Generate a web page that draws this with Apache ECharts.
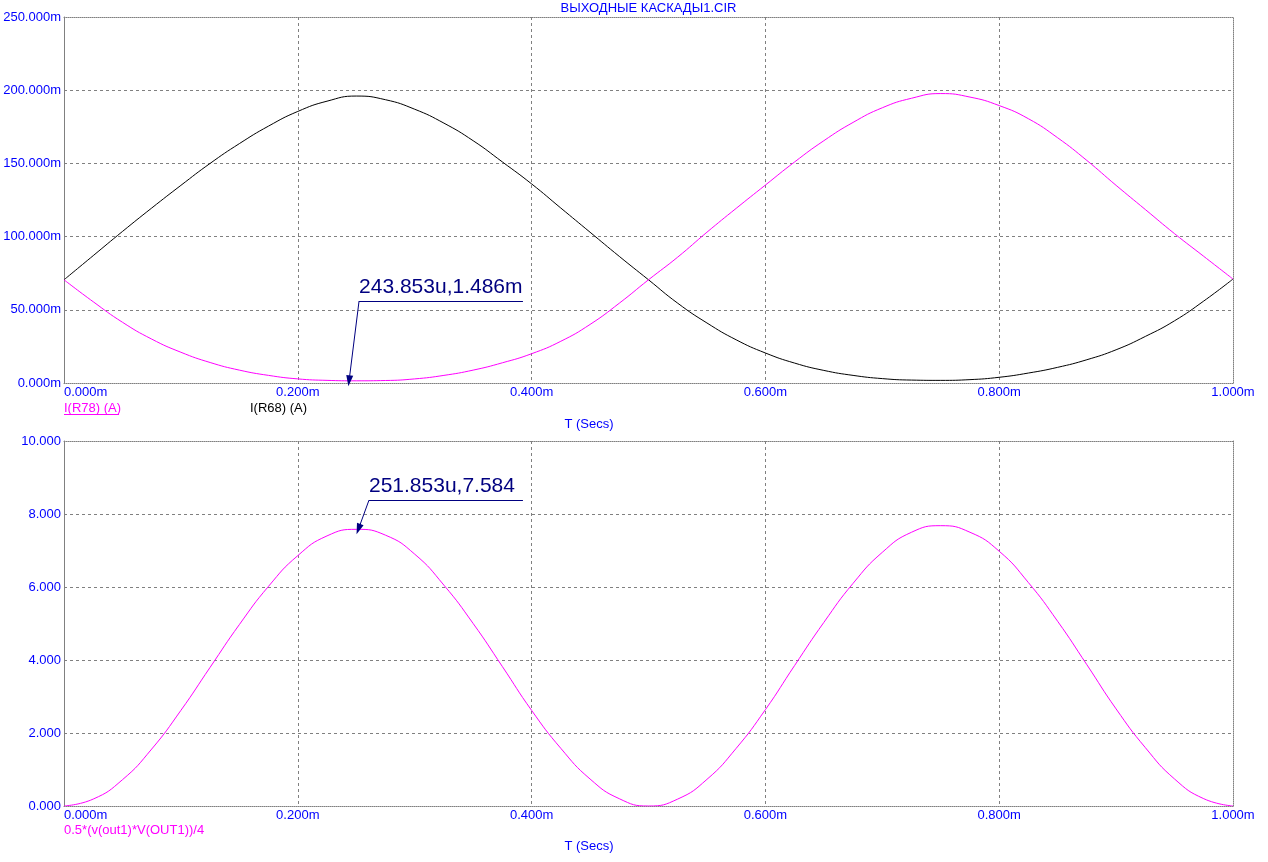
<!DOCTYPE html>
<html>
<head>
<meta charset="utf-8">
<script src="https://cdn.jsdelivr.net/npm/echarts@6/dist/echarts.min.js"></script>
<style>
html,body{margin:0;padding:0;background:#fff;}
#chart{width:1268px;height:862px;}
</style>
</head>
<body>
<div id="chart"></div>
<script>
// ---- Data (time in ms, currents in mA, power in W) ----
const timeMs = [0.000,0.025,0.050,0.075,0.100,0.125,0.150,0.175,0.200,0.225,0.250,0.275,0.300,0.325,0.350,0.375,0.400,0.425,0.450,0.475,
  0.500,0.525,0.550,0.575,0.600,0.625,0.650,0.675,0.700,0.725,0.750,0.775,0.800,0.825,0.850,0.875,0.900,0.925,0.950,0.975,1.000];
const iR68 = [70.5,87,103.5,119.5,135,150,163.5,175.5,185.5,192.5,196,193.5,187,177.5,165.5,151,136,119.5,103,86.5,
  70.5,54.5,41,29.5,20.5,13.6,8.6,5.2,3.0,2.0,1.8,2.3,3.9,6.8,10.7,15.9,22.7,31.8,42.5,56,71.0];
const iR78 = [70.5,55.5,41.5,30,21,14,8.8,5.2,2.8,1.8,1.5,1.7,2.8,5.2,8.8,13.8,20,28.5,40,54.5,
  70.5,86,103,119.3,135.2,151,165.5,178,188,194.5,197.7,195.3,189.5,180.5,167.5,152,135,118.5,102,86.5,71];
const pOut = [0,0.19,0.72,1.56,2.62,3.8,4.97,6.02,6.86,7.4,7.58,7.42,6.9,6.05,5.0,3.82,2.62,1.58,0.74,0.2,
  0,0.19,0.73,1.58,2.64,3.85,5.03,6.1,6.95,7.5,7.68,7.5,6.98,6.12,5.06,3.87,2.66,1.6,0.74,0.2,0];

const titleText = 'ВЫХОДНЫЕ КАСКАДЫ1.CIR';
const nameR78 = 'I(R78) (A)';
const nameR68 = 'I(R68) (A)';
const namePow = '0.5*(v(out1)*V(OUT1))/4';
const xAxisName = 'T (Secs)';
// cursor readouts: [t in ms, value]
const cursorTop = [0.243853, 1.486];
const cursorTopLabel = '243.853u,1.486m';
const cursorBot = [0.251853, 7.584];
const cursorBotLabel = '251.853u,7.584';

// ---- Styles ----
const FONT = '"Liberation Sans", Arial, sans-serif';
const BLUE = '#0000ff';
const MAG = '#ff00ff';
const NAVY = '#000080';
const GRIDC = '#808080';

const chart = echarts.init(document.getElementById('chart'), null, {renderer:'canvas'});

function zip(xs, ys){ return xs.map((x,i)=>[x, ys[i]]); }

const gridTop = {left:64, top:17, width:1169, height:366, outerBoundsMode:'none'};
const gridBot = {left:64, top:441, width:1169, height:365, outerBoundsMode:'none'};

function mainX(gi){
  return {
    type:'value', gridIndex:gi, min:0, max:1, interval:0.2,
    axisLine:{show:true, onZero:false, lineStyle:{color:GRIDC, width:1, type:[1,1]}},
    axisTick:{show:false},
    axisLabel:{color:BLUE, fontFamily:FONT, fontSize:13, margin:3,
      formatter:v=>v.toFixed(3)+'m', alignMinLabel:'left', showMinLabel:true, showMaxLabel:true},
    splitLine:{show:true, showMinLine:false, showMaxLine:false, lineStyle:{color:GRIDC, width:1, type:[3,3]}}
  };
}
function borderX(gi){
  return {type:'value', gridIndex:gi, position:'top', min:0, max:1,
    axisLine:{show:true, onZero:false, lineStyle:{color:GRIDC, width:1, type:[1,1]}},
    axisTick:{show:false}, axisLabel:{show:false}, splitLine:{show:false}};
}
function mainY(gi, max, interval, fmt){
  return {
    type:'value', gridIndex:gi, min:0, max:max, interval:interval,
    axisLine:{show:true, onZero:false, lineStyle:{color:GRIDC, width:1}},
    axisTick:{show:false},
    axisLabel:{color:BLUE, fontFamily:FONT, fontSize:13, margin:3, formatter:fmt},
    splitLine:{show:true, showMinLine:false, showMaxLine:false, lineStyle:{color:GRIDC, width:1, type:[3,3]}}
  };
}
function borderY(gi, max){
  return {type:'value', gridIndex:gi, position:'right', min:0, max:max,
    axisLine:{show:true, onZero:false, lineStyle:{color:GRIDC, width:1, type:[1,1]}},
    axisTick:{show:false}, axisLabel:{show:false}, splitLine:{show:false}};
}

function cursorMark(tip, elbow, endT, label){
  return {
    silent:true, animation:false,
    lineStyle:{color:NAVY, width:1, type:'solid'},
    emphasis:{disabled:true},
    data:[
      [ {coord:elbow, symbol:'none',
         label:{show:true, formatter:label, position:'insideStartTop', distance:[0,3],
                color:NAVY, fontFamily:FONT, fontSize:21}},
        {coord:[endT, elbow[1]], symbol:'none'} ],
      [ {coord:elbow, symbol:'none', label:{show:false}},
        {coord:tip, symbol:'triangle', symbolSize:[7,11], label:{show:false}} ]
    ]
  };
}

const option = {
  animation:false,
  backgroundColor:'#ffffff',
  grid:[gridTop, gridBot],
  xAxis:[mainX(0), borderX(0), mainX(1), borderX(1)],
  yAxis:[
    mainY(0, 250, 50, v=>v.toFixed(3)+'m'), borderY(0, 250),
    mainY(1, 10, 2, v=>v.toFixed(3)), borderY(1, 10)
  ],
  series:[
    {name:nameR68, type:'line', xAxisIndex:0, yAxisIndex:0, data:zip(timeMs, iR68),
     showSymbol:false, smooth:true, lineStyle:{color:'#000000', width:1}, itemStyle:{color:'#000000'}},
    {name:nameR78, type:'line', xAxisIndex:0, yAxisIndex:0, data:zip(timeMs, iR78),
     showSymbol:false, smooth:true, lineStyle:{color:MAG, width:1}, itemStyle:{color:MAG},
     markLine:cursorMark(cursorTop, [0.2524, 56], 0.3926, cursorTopLabel)},
    {name:namePow, type:'line', xAxisIndex:2, yAxisIndex:2, data:zip(timeMs, pOut),
     showSymbol:false, smooth:true, lineStyle:{color:MAG, width:1}, itemStyle:{color:MAG},
     markLine:cursorMark(cursorBot, [0.2609, 8.38], 0.3926, cursorBotLabel)}
  ],
  graphic:[
    {type:'text', x:648.5, y:8, silent:true,
     style:{text:titleText, fill:BLUE, font:'13px '+FONT, textAlign:'center', textVerticalAlign:'middle'}},
    {type:'text', x:64, y:408, silent:true,
     style:{text:nameR78, fill:MAG, font:'13px '+FONT, textAlign:'left', textVerticalAlign:'middle'}},
    {type:'line', silent:true, shape:{x1:64, y1:414.5, x2:119, y2:414.5}, style:{stroke:MAG, lineWidth:1}},
    {type:'text', x:250, y:408, silent:true,
     style:{text:nameR68, fill:'#000000', font:'13px '+FONT, textAlign:'left', textVerticalAlign:'middle'}},
    {type:'text', x:589, y:424, silent:true,
     style:{text:xAxisName, fill:BLUE, font:'13px '+FONT, textAlign:'center', textVerticalAlign:'middle'}},
    {type:'text', x:64, y:830, silent:true,
     style:{text:namePow, fill:MAG, font:'13px '+FONT, textAlign:'left', textVerticalAlign:'middle'}},
    {type:'text', x:589, y:846, silent:true,
     style:{text:xAxisName, fill:BLUE, font:'13px '+FONT, textAlign:'center', textVerticalAlign:'middle'}}
  ]
};
chart.setOption(option);
</script>
</body>
</html>
